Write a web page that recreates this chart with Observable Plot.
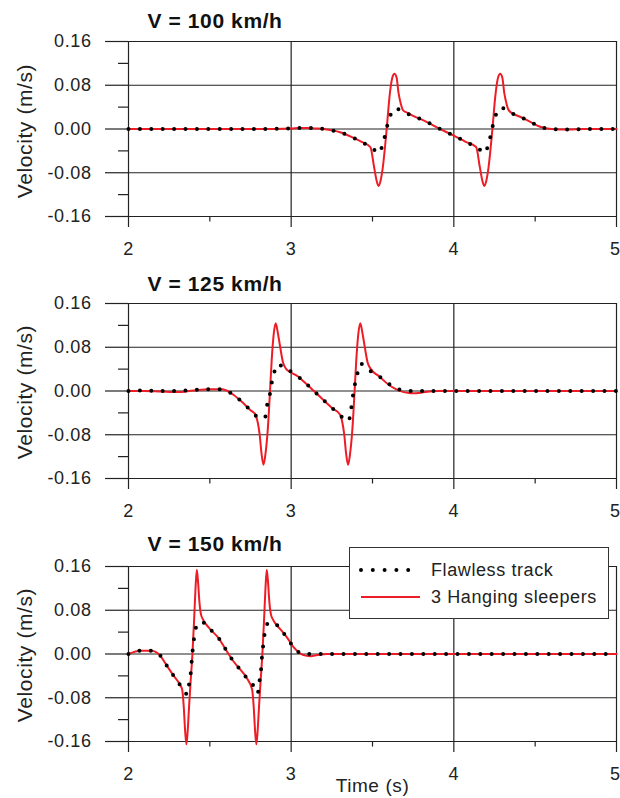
<!DOCTYPE html>
<html><head><meta charset="utf-8">
<script src="https://cdn.jsdelivr.net/npm/d3@7"></script>
<script src="https://cdn.jsdelivr.net/npm/@observablehq/plot@0.6"></script>
<style>
body{margin:0;background:#fff;}
#chart{position:relative;width:620px;height:798px;overflow:hidden;background:#fff;}
#chart > svg{display:block;}
#legend{position:absolute;left:349px;top:547px;width:258px;height:70px;border:1.3px solid #333;background:#fff;}
#legend svg{display:block;}
</style></head><body><div id="chart"></div>
<script>
// ---- data ----
const panelTitles = ["V = 100 km/h", "V = 125 km/h", "V = 150 km/h"];
const seriesNames = ["Flawless track", "3 Hanging sleepers"];
const xMajorTicks = [2, 3, 4, 5];
const xInnerLabels = [2, 3, 4];
const xEdgeLabels = [5];
const xMinorTicks = [2.5, 3.5, 4.5];
const yMajorTicks = [-0.16, -0.08, 0, 0.08, 0.16];
const yMinorTicks = [-0.12, -0.04, 0.04, 0.12];

const time100Flawless = [2.0, 2.2, 2.4, 2.6, 2.8, 3.0, 3.05, 3.1, 3.15, 3.2, 3.26, 3.3, 3.36, 3.43, 3.48, 3.51, 3.54, 3.565, 3.6, 3.63, 3.65, 3.68, 3.75, 3.82, 3.89, 3.95, 4.0, 4.07, 4.13, 4.16, 4.19, 4.215, 4.25, 4.28, 4.30, 4.34, 4.41, 4.47, 4.53, 4.6, 4.7, 4.8, 5.0];
const vel100Flawless = [0, 0, 0, 0, 0, 0.001, 0.002, 0.002, 0.001, 0, -0.003, -0.006, -0.013, -0.023, -0.032, -0.038, -0.044, -0.025, 0.016, 0.036, 0.037, 0.032, 0.024, 0.015, 0.004, -0.005, -0.012, -0.023, -0.032, -0.038, -0.044, -0.025, 0.018, 0.037, 0.038, 0.031, 0.022, 0.013, 0.004, 0, -0.001, 0, 0];
const time100Hanging = [2.0, 2.2, 2.4, 2.6, 2.8, 3.0, 3.05, 3.1, 3.15, 3.2, 3.26, 3.3, 3.36, 3.43, 3.487, 3.51, 3.525, 3.537, 3.55, 3.563, 3.586, 3.606, 3.622, 3.635, 3.648, 3.66, 3.675, 3.688, 3.72, 3.75, 3.82, 3.89, 3.95, 4.0, 4.07, 4.137, 4.16, 4.175, 4.187, 4.2, 4.213, 4.236, 4.256, 4.272, 4.285, 4.298, 4.31, 4.325, 4.338, 4.37, 4.41, 4.47, 4.53, 4.6, 4.7, 4.8, 5.0];
const vel100Hanging = [0, 0, 0, 0, 0, 0.001, 0.002, 0.002, 0.001, 0, -0.003, -0.006, -0.013, -0.023, -0.033, -0.07, -0.094, -0.104, -0.094, -0.071, -0.004, 0.063, 0.094, 0.101, 0.094, 0.066, 0.045, 0.034, 0.029, 0.024, 0.015, 0.004, -0.005, -0.012, -0.023, -0.033, -0.07, -0.094, -0.104, -0.094, -0.071, -0.004, 0.063, 0.094, 0.101, 0.094, 0.066, 0.045, 0.034, 0.027, 0.022, 0.013, 0.004, 0, -0.001, 0, 0];

const time125Flawless = [2.0, 2.1, 2.2, 2.3, 2.4, 2.5, 2.575, 2.636, 2.69, 2.75, 2.796, 2.82, 2.84, 2.85, 2.868, 2.88, 2.897, 2.92, 2.95, 2.985, 3.04, 3.06, 3.14, 3.2, 3.255, 3.306, 3.33, 3.353, 3.368, 3.378, 3.39, 3.405, 3.43, 3.45, 3.48, 3.54, 3.606, 3.66, 3.728, 3.8, 3.9, 4.0, 4.5, 5.0];
const vel125Flawless = [0, 0.001, 0, 0, 0.002, 0.003, 0.003, -0.005, -0.018, -0.035, -0.048, -0.05, -0.048, -0.029, -0.008, 0.014, 0.035, 0.049, 0.044, 0.038, 0.027, 0.022, 0, -0.017, -0.032, -0.046, -0.052, -0.055, -0.034, -0.012, 0.009, 0.029, 0.05, 0.044, 0.038, 0.027, 0.012, 0.003, 0, 0, 0, 0, 0, 0];
const time125Hanging = [2.0, 2.1, 2.2, 2.3, 2.4, 2.5, 2.575, 2.636, 2.69, 2.75, 2.78, 2.795, 2.806, 2.818, 2.83, 2.842, 2.857, 2.87, 2.88, 2.893, 2.905, 2.917, 2.93, 2.95, 2.97, 2.985, 3.04, 3.06, 3.14, 3.2, 3.255, 3.3, 3.315, 3.326, 3.338, 3.35, 3.362, 3.377, 3.39, 3.4, 3.413, 3.425, 3.437, 3.45, 3.47, 3.49, 3.54, 3.606, 3.66, 3.733, 3.8, 3.85, 3.9, 4.0, 4.5, 5.0];
const vel125Hanging = [0, 0, -0.001, -0.002, 0.001, 0.003, 0.003, -0.005, -0.018, -0.035, -0.043, -0.058, -0.079, -0.115, -0.135, -0.115, -0.067, 0, 0.055, 0.105, 0.124, 0.108, 0.085, 0.052, 0.04, 0.036, 0.027, 0.022, 0, -0.017, -0.032, -0.043, -0.058, -0.079, -0.115, -0.135, -0.115, -0.067, 0, 0.055, 0.105, 0.124, 0.108, 0.085, 0.052, 0.04, 0.027, 0.01, 0.001, -0.004, -0.003, -0.001, 0, 0, 0, 0];

const time150Flawless = [2.0, 2.074, 2.145, 2.186, 2.237, 2.278, 2.32, 2.345, 2.36, 2.375, 2.385, 2.39, 2.397, 2.405, 2.43, 2.466, 2.503, 2.554, 2.596, 2.637, 2.677, 2.725, 2.766, 2.78, 2.794, 2.805, 2.815, 2.82, 2.827, 2.835, 2.86, 2.895, 2.934, 2.975, 3.016, 3.077, 3.2, 3.5, 4.0, 4.5, 5.0];
const vel150Flawless = [0, 0.006, 0.006, 0, -0.022, -0.04, -0.058, -0.068, -0.074, -0.05, -0.028, -0.007, 0.013, 0.033, 0.057, 0.057, 0.045, 0.029, 0.009, -0.01, -0.025, -0.043, -0.057, -0.064, -0.072, -0.05, -0.028, -0.007, 0.013, 0.033, 0.057, 0.057, 0.045, 0.03, 0.012, 0, 0, 0, 0, 0, 0];
const time150Hanging = [2.0, 2.074, 2.145, 2.186, 2.237, 2.278, 2.32, 2.33, 2.34, 2.348, 2.356, 2.364, 2.372, 2.382, 2.393, 2.403, 2.412, 2.42, 2.428, 2.436, 2.446, 2.46, 2.475, 2.503, 2.554, 2.596, 2.637, 2.677, 2.725, 2.76, 2.77, 2.778, 2.786, 2.794, 2.802, 2.812, 2.823, 2.833, 2.842, 2.85, 2.858, 2.866, 2.876, 2.89, 2.905, 2.934, 2.975, 3.016, 3.06, 3.09, 3.12, 3.16, 3.22, 3.5, 4.0, 4.5, 5.0];
const vel150Hanging = [0, 0.006, 0.006, 0, -0.022, -0.04, -0.058, -0.065, -0.098, -0.14, -0.165, -0.14, -0.098, -0.05, 0, 0.06, 0.12, 0.154, 0.13, 0.095, 0.072, 0.062, 0.055, 0.045, 0.029, 0.009, -0.01, -0.025, -0.043, -0.065, -0.098, -0.14, -0.165, -0.14, -0.098, -0.05, 0, 0.06, 0.12, 0.154, 0.13, 0.095, 0.072, 0.062, 0.055, 0.045, 0.03, 0.012, 0, -0.003, -0.004, -0.002, 0, 0, 0, 0, 0];

// ---- layout / style ----
const FONT = "'Liberation Sans', Arial, Helvetica, sans-serif";
const INK = "#222";
const RED = "#ee1c25";
const rows = (t, v) => t.map((d, i) => ({t: d, v: v[i]}));

const panels = [
  {title: panelTitles[0], flaw: rows(time100Flawless, vel100Flawless), hang: rows(time100Hanging, vel100Hanging), height: 260, mt: 41, mb: 44, tdy: -14, ldy: 2, xlabel: false},
  {title: panelTitles[1], flaw: rows(time125Flawless, vel125Flawless), hang: rows(time125Hanging, vel125Hanging), height: 260, mt: 43, mb: 42, tdy: -13, ldy: 1, xlabel: false},
  {title: panelTitles[2], flaw: rows(time150Flawless, vel150Flawless), hang: rows(time150Hanging, vel150Hanging), height: 278, mt: 46, mb: 57, tdy: -16, ldy: 1, xlabel: true}
];

const chart = document.getElementById("chart");

for (const p of panels) {
  const marks = [
    Plot.gridY(yMajorTicks, {stroke: INK, strokeOpacity: 1, strokeWidth: 1.2}),
    Plot.gridX(xMajorTicks, {stroke: INK, strokeOpacity: 1, strokeWidth: 1.2}),
    Plot.axisY(yMajorTicks, {tickSize: 23, tickPadding: 14, tickFormat: d => d.toFixed(2), label: null, stroke: INK, strokeWidth: 1.2, fill: INK}),
    Plot.axisY(yMinorTicks, {tickSize: 10, tickFormat: () => "", label: null, stroke: INK, strokeWidth: 1.2}),
    Plot.axisX(xInnerLabels, {tickSize: 11, tickPadding: 15, tickFormat: d => String(d), label: null, stroke: INK, strokeWidth: 1.2, fill: INK}),
    Plot.axisX(xEdgeLabels, {tickSize: 11, tickFormat: () => "", label: null, stroke: INK, strokeWidth: 1.2}),
    Plot.text(xEdgeLabels, {x: d => d, text: d => String(d), frameAnchor: "bottom", lineAnchor: "top", textAnchor: "end", dx: 4, dy: 26, fill: INK}),
    Plot.axisX(xMinorTicks, {tickSize: 5.5, tickFormat: () => "", label: null, stroke: INK, strokeWidth: 1.2}),
    Plot.line(p.hang, {x: "t", y: "v", stroke: RED, strokeWidth: 2, curve: "monotone-x"}),
    Plot.line(p.flaw, {x: "t", y: "v", stroke: "#000", strokeWidth: 4, strokeLinecap: "round", strokeDasharray: "0 11.4", curve: "monotone-x"}),
    Plot.text([p.title], {text: d => d, frameAnchor: "top-left", textAnchor: "start", lineAnchor: "bottom", dx: 19, dy: p.tdy, fontWeight: "bold", fontSize: 21, fill: "#111"}),
    Plot.text(["Velocity (m/s)"], {text: d => d, frameAnchor: "left", textAnchor: "middle", lineAnchor: "middle", rotate: -90, dx: -103, dy: p.ldy, fontSize: 21, fill: INK})
  ];
  if (p.xlabel) {
    marks.push(Plot.text(["Time (s)"], {text: d => d, frameAnchor: "bottom", textAnchor: "middle", lineAnchor: "bottom", dy: 50, fontSize: 19, fill: INK}));
  }
  const svg = Plot.plot({
    width: 620, height: p.height,
    marginLeft: 128, marginRight: 4, marginTop: p.mt, marginBottom: p.mb,
    style: {fontFamily: FONT, fontSize: "18px", color: INK, letterSpacing: "0.6px", background: "#fff", overflow: "hidden"},
    x: {domain: [2, 5]},
    y: {domain: [-0.16, 0.16]},
    marks
  });
  chart.appendChild(svg);
}

// ---- legend (inside bottom panel) ----
const legend = d3.select("#chart").append("div").attr("id", "legend");
const lsvg = legend.append("svg").attr("width", 258).attr("height", 70)
  .style("font-family", FONT).style("font-size", "18px").style("letter-spacing", "0.6px");
lsvg.append("line").attr("x1", 11).attr("x2", 70).attr("y1", 22).attr("y2", 22)
  .attr("stroke", "#000").attr("stroke-width", 4).attr("stroke-linecap", "round").attr("stroke-dasharray", "0 11.8");
lsvg.append("line").attr("x1", 11).attr("x2", 70).attr("y1", 49).attr("y2", 49)
  .attr("stroke", RED).attr("stroke-width", 2);
lsvg.append("text").attr("x", 81).attr("y", 22).attr("dy", "0.35em").attr("fill", INK).text(seriesNames[0]);
lsvg.append("text").attr("x", 81).attr("y", 49).attr("dy", "0.35em").attr("fill", INK).text(seriesNames[1]);
</script></body></html>
